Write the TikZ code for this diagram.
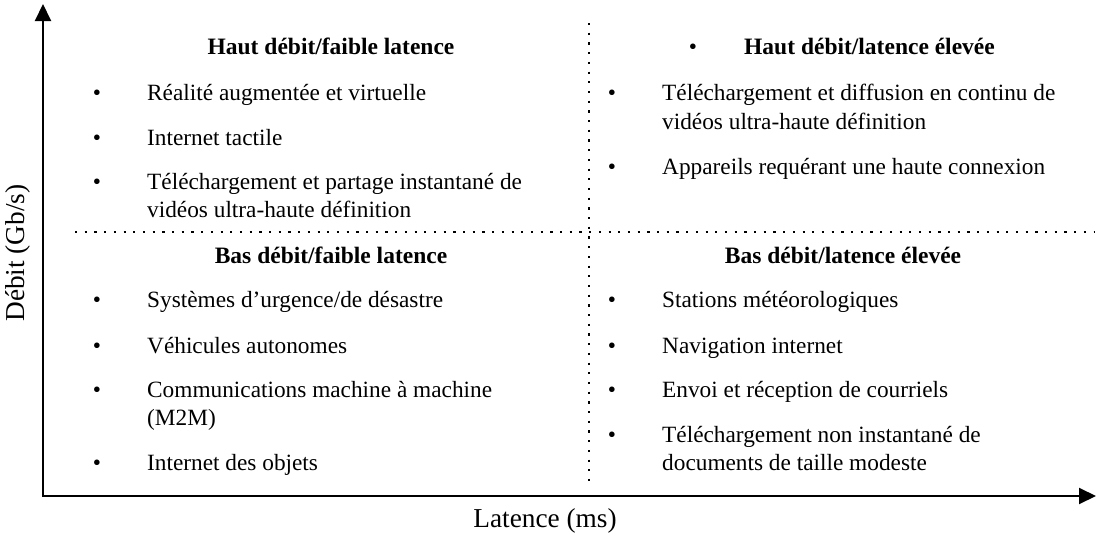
\documentclass[tikz,border=0pt]{standalone}
\usepackage{fontspec}
\setmainfont{Liberation Serif}
\usetikzlibrary{arrows.meta}
\begin{document}
\begin{tikzpicture}[x=1pt,y=-1pt,
  body/.style={font=\fontsize{23.3}{28}\selectfont, inner sep=0pt, anchor=west, text height=16pt, text depth=5pt, yshift=-1.5pt},
  head/.style={body, font=\fontsize{23.5}{28}\selectfont\bfseries, anchor=center},
  bul/.style={body, anchor=center},
  axlab/.style={font=\fontsize{27.3}{32}\selectfont, inner sep=0pt},
  axis/.style={line width=2pt, {Triangle[length=17pt,width=16pt]}-{Triangle[length=17pt,width=16pt]}},
  dots/.style={line width=2.2pt, dash pattern=on 2.2pt off 7.5pt}
]
\useasboundingbox (0,0) rectangle (1096,538);

% axes
\coordinate (ytop) at (43,4);
\coordinate (O) at (43,496);
\coordinate (xend) at (1096,496);
\draw[axis] (ytop) -- (O) -- (xend);

% dotted separators
\coordinate (vt) at (589,23);
\coordinate (vb) at (589,485);
\coordinate (hl) at (75,232);
\coordinate (hr) at (1095,232);
\draw[dots] (vt) -- (vb);
\draw[dots] (hl) -- (hr);

% axis labels
\node[axlab, rotate=90] (ylab) at (18,253) {Débit (Gb/s)};
\node[axlab] (xlab) at (545,521) {Latence (ms)};

% top-left quadrant
\node[head] (h1) at (331,47) {Haut débit/faible latence};
\node[bul] (b11) at (97,93) {•};
\node[body] (t11) at (147,93) {Réalité augmentée et virtuelle};
\node[bul] (b12) at (97,138) {•};
\node[body] (t12) at (147,138) {Internet tactile};
\node[bul] (b13) at (97,182) {•};
\node[body] (t13a) at (147,182) {Téléchargement et partage instantané de};
\node[body] (t13b) at (147,210) {vidéos ultra-haute définition};

% top-right quadrant
\node[bul] (b20) at (693,47) {•};
\node[head, anchor=west] (h2) at (744,47) {Haut débit/latence élevée};
\node[bul] (b21) at (612,93) {•};
\node[body] (t21a) at (662,93) {Téléchargement et diffusion en continu de};
\node[body] (t21b) at (662,122) {vidéos ultra-haute définition};
\node[bul] (b22) at (612,167) {•};
\node[body] (t22) at (662,167) {Appareils requérant une haute connexion};

% bottom-left quadrant
\node[head] (h3) at (331,256) {Bas débit/faible latence};
\node[bul] (b31) at (97,300) {•};
\node[body] (t31) at (147,300) {Systèmes d’urgence/de désastre};
\node[bul] (b32) at (97,346) {•};
\node[body] (t32) at (147,346) {Véhicules autonomes};
\node[bul] (b33) at (97,390) {•};
\node[body] (t33a) at (147,390) {Communications machine à machine};
\node[body] (t33b) at (147,418) {(M2M)};
\node[bul] (b34) at (97,463) {•};
\node[body] (t34) at (147,463) {Internet des objets};

% bottom-right quadrant
\node[head] (h4) at (843,256) {Bas débit/latence élevée};
\node[bul] (b41) at (612,300) {•};
\node[body] (t41) at (662,300) {Stations météorologiques};
\node[bul] (b42) at (612,346) {•};
\node[body] (t42) at (662,346) {Navigation internet};
\node[bul] (b43) at (612,390) {•};
\node[body] (t43) at (662,390) {Envoi et réception de courriels};
\node[bul] (b44) at (612,435) {•};
\node[body] (t44a) at (662,435) {Téléchargement non instantané de};
\node[body] (t44b) at (662,463) {documents de taille modeste};
\end{tikzpicture}
\end{document}
